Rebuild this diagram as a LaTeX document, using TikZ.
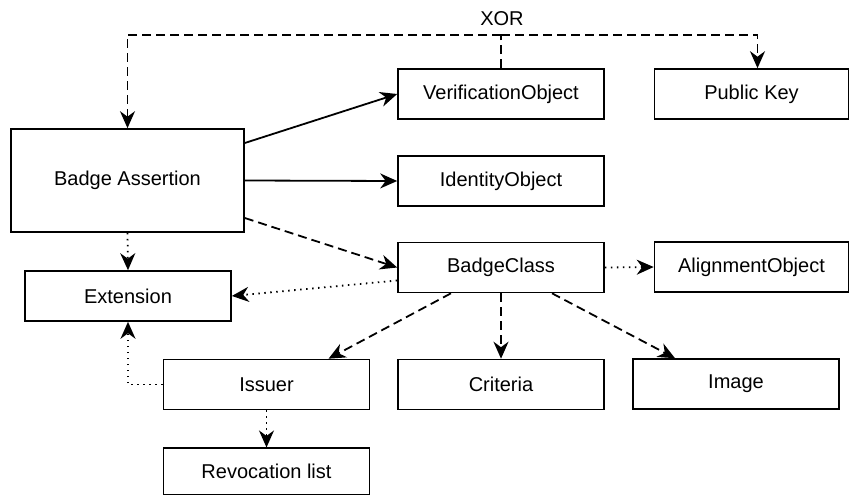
\documentclass[tikz,border=0pt]{standalone}
\usepackage{fontspec}
\setmainfont{Liberation Sans}
\usetikzlibrary{arrows.meta}

\tikzset{
	entity/.style={draw, rectangle, line width=1.6pt, minimum width=206pt, minimum height=50pt, inner sep=0pt, font=\fontsize{20}{24}\selectfont},
	link/.style={line width=1.8pt, -{Stealth[length=17pt, width=15pt, inset=5.5pt]}},
	optlink/.style={link, dash pattern=on 9pt off 5pt},
	extlink/.style={link, dash pattern=on 1.5pt off 4.5pt}
}

\begin{document}
\begin{tikzpicture}[x=1pt, y=-1pt]
			%%%%% START %%%%%
			\useasboundingbox (0, 0) rectangle (849, 495);
			\clip (0, 0) rectangle (849, 495);
			
			\node[entity, minimum width=233pt, minimum height=103pt] (assertion) at (127.5, 180.5) {Badge Assertion};
			\node[entity] (extension) at (128, 296) {Extension};
			
			\node[entity] (verification) at (501, 94) {VerificationObject};
			\node[entity, minimum width=194pt] (pubkey) at (751.5, 94) {Public Key};
			\node[entity] (identity) at (501, 181) {IdentityObject};
			\node[entity] (badgeclass) at (501, 267.5) {BadgeClass};
			\node[entity, minimum width=194pt] (alignment) at (751.5, 267) {AlignmentObject};
			
			\node[entity] (issuer) at (266.5, 384.5) {Issuer};
			\node[entity] (criteria) at (501, 384.5) {Criteria};
			\node[entity] (image) at (736, 384) {Image};
			\node[entity, minimum height=46.5pt] (revocation) at (266.5, 471.5) {Revocation list};
			
			\node[font=\fontsize{20}{24}\selectfont] (xor) at (502, 19) {XOR};
			\coordinate (xorjoin) at (501, 35);
			
			\draw[optlink, -] (verification.north) -- (xorjoin);
			\draw[optlink] (xorjoin) -| (assertion.north);
			\draw[optlink] (xorjoin) -| ([xshift=6pt]pubkey.north);
			
			\draw[link] ([yshift=37.5pt]assertion.east) -- (verification.west);
			\draw[link] (assertion.east) -- (identity.west);
			\draw[optlink] ([yshift=-37.5pt]assertion.east) -- (badgeclass.west);
			\draw[extlink] (assertion.south) -- (extension.north);
			
			\draw[extlink] ([yshift=-13pt]badgeclass.west) -- (extension.east);
			\draw[extlink] (badgeclass.east) -- (alignment.west);
			\draw[optlink] ([xshift=-50pt]badgeclass.south) -- ([xshift=62pt]issuer.north);
			\draw[optlink] (badgeclass.south) -- (criteria.north);
			\draw[optlink] ([xshift=51pt]badgeclass.south) -- ([xshift=-61pt]image.north);
			
			\draw[extlink] (issuer.west) -| (extension.south);
			\draw[extlink] (issuer.south) -- (revocation.north);
			%%%%% END %%%%%
\end{tikzpicture}
\end{document}
